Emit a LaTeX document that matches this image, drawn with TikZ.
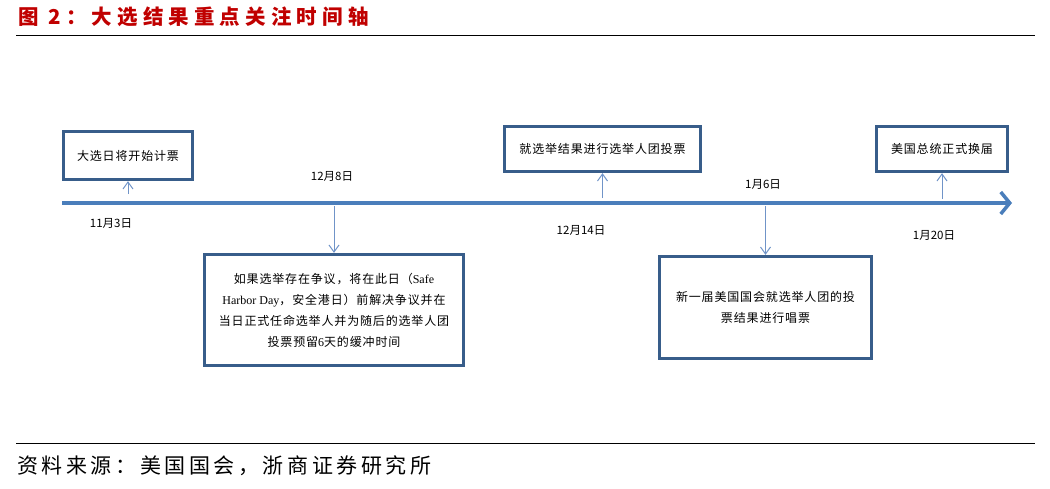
\documentclass[tikz,border=0pt]{standalone}
\usepackage{fontspec}
\setmainfont{Liberation Serif}
\newfontfamily\cjk{Noto Sans CJK SC}
\usetikzlibrary{arrows.meta}
\definecolor{titlered}{RGB}{192,0,0}
\definecolor{boxblue}{RGB}{56,93,138}
\definecolor{axisblue}{RGB}{74,126,187}
\definecolor{arrblue}{RGB}{112,148,200}
\tikzset{
  box/.style={draw=boxblue, line width=3.3pt, fill=white, align=center, inner sep=2pt,
    font=\cjk\addfontfeatures{LetterSpace=7}\fontsize{12}{21}\selectfont},
  datelabel/.style={font=\cjk\fontsize{11.5}{13}\selectfont, inner sep=0pt},
  arr/.style={draw=arrblue, line width=1pt, -{Straight Barb[length=7pt,width=10pt]}},
  rule/.style={draw=black, line width=1pt},
}
\begin{document}
\begin{tikzpicture}[x=1pt,y=-1pt]
\useasboundingbox (0,0) rectangle (1050,488);
% title
\node[anchor=west, inner sep=0pt, text=titlered,
  font=\cjk\bfseries\addfontfeatures{LetterSpace=25}\fontsize{20.5}{24}\selectfont] (title) at (18,17) {图 2：大选结果重点关注时间轴};
\coordinate (tl0) at (16,35);
\coordinate (tl1) at (1035,35);
\draw[rule] (tl0) -- (tl1);
% timeline
\coordinate (t0) at (62,203);
\coordinate (t1) at (1012,203);
\draw[draw=axisblue, line width=3.5pt, -{Straight Barb[length=9pt,width=22pt]}] (t0) -- (t1);
% boxes
\node[box, minimum width=129pt, minimum height=48pt] (b1) at (128,155.5) {大选日将开始计票};
\node[box, minimum width=196pt, minimum height=45pt] (b3) at (602.5,149) {就选举结果进行选举人团投票};
\node[box, minimum width=131pt, minimum height=45pt] (b5) at (942,149) {美国总统正式换届};
\node[box, minimum width=259pt, minimum height=111pt] (b2) at (334,310)
  {如果选举存在争议，将在此日（{\rmfamily Safe}\\
   {\rmfamily Harbor Day}，安全港日）前解决争议并在\\
   当日正式任命选举人并为随后的选举人团\\
   投票预留{\rmfamily 6}天的缓冲时间};
\node[box, minimum width=212pt, minimum height=102pt] (b4) at (765.5,307.5)
  {新一届美国国会就选举人团的投\\票结果进行唱票};
% arrows
\coordinate (a1) at (128,194);
\coordinate (a3) at (602.5,198);
\coordinate (a5) at (942,199);
\coordinate (a2) at (334,206);
\coordinate (a4) at (765.5,206);
\draw[arr] (a1) -- (b1.south);
\draw[arr] (a3) -- (b3.south);
\draw[arr] (a5) -- (b5.south);
\draw[arr] (a2) -- (b2.north);
\draw[arr] (a4) -- (b4.north);
% dates
\node[datelabel] (d1) at (111,223) {11月3日};
\node[datelabel] (d2) at (332,176) {12月8日};
\node[datelabel] (d3) at (581,230) {12月14日};
\node[datelabel] (d4) at (763,184) {1月6日};
\node[datelabel] (d5) at (934,235) {1月20日};
% source
\coordinate (bl0) at (16,443);
\coordinate (bl1) at (1035,443);
\draw[rule] (bl0) -- (bl1);
\node[anchor=west, inner sep=0pt,
  font=\cjk\addfontfeatures{LetterSpace=17}\fontsize{21}{24}\selectfont] (src) at (17,466) {资料来源：美国国会，浙商证券研究所};
\end{tikzpicture}
\end{document}
